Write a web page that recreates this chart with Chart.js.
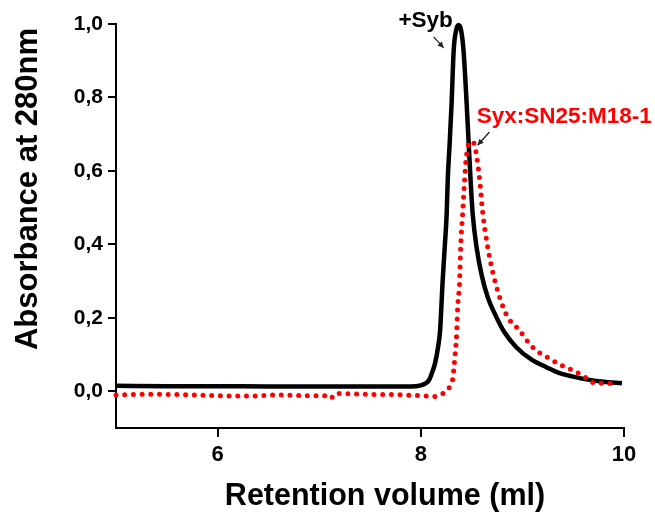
<!DOCTYPE html>
<html>
<head>
<meta charset="utf-8">
<script src="https://cdn.jsdelivr.net/npm/chart.js@4.4.1/dist/chart.umd.min.js"></script>
<style>
  html, body { margin: 0; padding: 0; background: #fff; }
  #wrap { width: 655px; height: 515px; position: relative; }
</style>
</head>
<body>
<div id="wrap"><canvas id="c" width="655" height="515"></canvas></div>
<script>
// ---- data ----
const sybX = [5.0, 5.5, 6.0, 6.5, 7.0, 7.5, 7.9, 8.0, 8.05, 8.08, 8.11, 8.14, 8.17, 8.19, 8.215, 8.235, 8.255, 8.265, 8.285, 8.304, 8.324, 8.35, 8.37, 8.395, 8.42, 8.45, 8.49, 8.51, 8.55, 8.60, 8.66, 8.73, 8.82, 8.94, 9.08, 9.24, 9.36, 9.5, 9.66, 9.8, 9.98];
const sybY = [0.015, 0.014, 0.014, 0.013, 0.013, 0.013, 0.013, 0.016, 0.022, 0.03, 0.05, 0.076, 0.12, 0.166, 0.30, 0.39, 0.485, 0.575, 0.68, 0.79, 0.93, 0.985, 0.997, 0.985, 0.93, 0.79, 0.575, 0.485, 0.39, 0.315, 0.255, 0.21, 0.162, 0.12, 0.088, 0.065, 0.05, 0.04, 0.031, 0.026, 0.022];

const m18X = [5.0, 5.3, 5.6, 6.0, 6.3, 6.6, 6.9, 7.05, 7.11, 7.16, 7.4, 7.7, 8.0, 8.14, 8.216, 8.284, 8.314, 8.333, 8.353, 8.363, 8.382, 8.392, 8.412, 8.431, 8.445, 8.47, 8.50, 8.53, 8.555, 8.58, 8.61, 8.66, 8.73, 8.84, 8.97, 9.10, 9.29, 9.38, 9.44, 9.51, 9.59, 9.68, 9.75, 9.85, 9.92];
const m18Y = [-0.010, -0.008, -0.009, -0.012, -0.013, -0.010, -0.012, -0.012, -0.020, -0.006, -0.008, -0.009, -0.012, -0.014, -0.006, 0.012, 0.033, 0.085, 0.158, 0.229, 0.30, 0.39, 0.485, 0.575, 0.63, 0.672, 0.68, 0.67, 0.63, 0.575, 0.485, 0.39, 0.30, 0.21, 0.166, 0.12, 0.085, 0.071, 0.065, 0.054, 0.044, 0.025, 0.022, 0.022, 0.011];

const xTicks = [6, 8, 10];
const yTicks = [0, 0.2, 0.4, 0.6, 0.8, 1.0];
const xTitle = 'Retention volume (ml)';
const yTitle = 'Absorbance at 280nm';
const sybLabel = '+Syb';
const m18Label = 'Syx:SN25:M18-1';
// annotation anchors in data units
const sybLabelAt = [7.78, 0.992];
const sybArrow = [[8.127, 0.965], [8.225, 0.935]];
const m18LabelAt = [8.55, 0.73];
const m18Arrow = [[8.676, 0.706], [8.559, 0.670]];

const toPts = (xs, ys) => xs.map((x, i) => ({ x: x, y: ys[i] }));
const FONT = "'Liberation Sans', Arial, sans-serif";

function arrow(ctx, x1, y1, x2, y2, color) {
  ctx.save();
  ctx.strokeStyle = color; ctx.fillStyle = color; ctx.lineWidth = 1.3;
  ctx.beginPath(); ctx.moveTo(x1, y1); ctx.lineTo(x2, y2); ctx.stroke();
  const a = Math.atan2(y2 - y1, x2 - x1), L = 6, W = 3;
  ctx.beginPath();
  ctx.moveTo(x2, y2);
  ctx.lineTo(x2 - L * Math.cos(a) + W * Math.sin(a), y2 - L * Math.sin(a) - W * Math.cos(a));
  ctx.lineTo(x2 - L * Math.cos(a) - W * Math.sin(a), y2 - L * Math.sin(a) + W * Math.cos(a));
  ctx.closePath(); ctx.fill();
  ctx.restore();
}

const textPlugin = {
  id: 'texts',
  afterDraw(chart) {
    const ctx = chart.ctx, xs = chart.scales.x, ys = chart.scales.y;
    ctx.save();
    ctx.fillStyle = '#000';
    ctx.font = 'bold 30.5px ' + FONT;
    ctx.textAlign = 'center'; ctx.textBaseline = 'alphabetic';
    ctx.fillText(xTitle, 385, 505);
    ctx.save();
    ctx.translate(37, 189);
    ctx.rotate(-Math.PI / 2);
    ctx.font = 'bold 31px ' + FONT;
    ctx.fillText(yTitle, 0, 0);
    ctx.restore();

    ctx.font = 'bold 22.5px ' + FONT;
    ctx.textAlign = 'left';
    ctx.fillStyle = '#000';
    ctx.fillText(sybLabel, xs.getPixelForValue(sybLabelAt[0]), ys.getPixelForValue(sybLabelAt[1]));
    ctx.fillStyle = '#ff0000';
    ctx.fillText(m18Label, xs.getPixelForValue(m18LabelAt[0]), ys.getPixelForValue(m18LabelAt[1]));
    arrow(ctx, xs.getPixelForValue(sybArrow[0][0]), ys.getPixelForValue(sybArrow[0][1]),
               xs.getPixelForValue(sybArrow[1][0]), ys.getPixelForValue(sybArrow[1][1]), '#222');
    arrow(ctx, xs.getPixelForValue(m18Arrow[0][0]), ys.getPixelForValue(m18Arrow[0][1]),
               xs.getPixelForValue(m18Arrow[1][0]), ys.getPixelForValue(m18Arrow[1][1]), '#222');
    ctx.restore();
  }
};

new Chart(document.getElementById('c'), {
  type: 'line',
  data: {
    datasets: [
      {
        label: m18Label,
        data: toPts(m18X, m18Y),
        borderColor: '#ff0000',
        borderWidth: 5,
        borderDash: [0, 8.7],
        borderCapStyle: 'round',
        pointRadius: 0,
        cubicInterpolationMode: 'monotone',
        fill: false,
        clip: false
      },
      {
        label: sybLabel,
        data: toPts(sybX, sybY),
        borderColor: '#000',
        borderWidth: 4.5,
        pointRadius: 0,
        cubicInterpolationMode: 'monotone',
        fill: false,
        clip: false
      }
    ]
  },
  options: {
    responsive: false,
    animation: false,
    events: [],
    layout: { padding: { top: 24, right: 31, left: 0, bottom: 0 } },
    plugins: { legend: { display: false }, tooltip: { enabled: false } },
    scales: {
      x: {
        type: 'linear', min: 5, max: 10,
        afterBuildTicks: s => { s.ticks = xTicks.map(v => ({ value: v })); },
        afterFit: s => { s.height = 87; },
        grid: { display: true, drawOnChartArea: false, drawTicks: true, tickLength: 9, color: '#000', lineWidth: 2 },
        border: { display: true, color: '#000', width: 2 },
        ticks: { color: '#000', font: { family: FONT, weight: 'bold', size: 22 }, padding: 5, maxRotation: 0,
                 callback: v => String(v) }
      },
      y: {
        type: 'linear', min: -0.1, max: 1.0,
        afterBuildTicks: s => { s.ticks = yTicks.map(v => ({ value: v })); },
        afterFit: s => { s.width = 116; },
        grid: { display: true, drawOnChartArea: false, drawTicks: true, tickLength: 8, color: '#000', lineWidth: 2 },
        border: { display: true, color: '#000', width: 2 },
        ticks: { color: '#000', font: { family: FONT, weight: 'bold', size: 21 }, padding: 5,
                 callback: v => v.toFixed(1).replace('.', ',') }
      }
    }
  },
  plugins: [textPlugin]
});
</script>
</body>
</html>
